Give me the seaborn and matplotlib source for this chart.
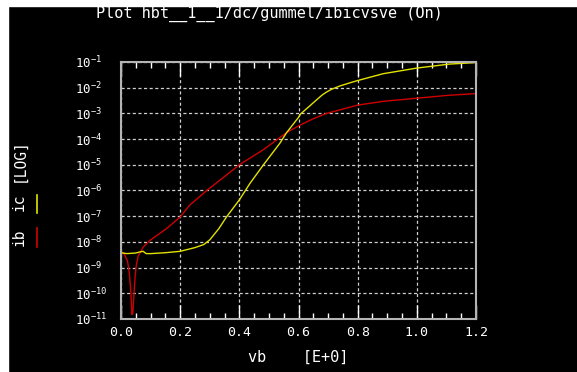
import numpy as np
import pandas as pd
import seaborn as sns
import matplotlib
matplotlib.use("Agg")
from matplotlib import pyplot as plt
from matplotlib.lines import Line2D
from matplotlib.patches import Rectangle
from matplotlib.ticker import FixedLocator, FuncFormatter, LogLocator, MultipleLocator

# base-emitter sweep (V) and currents (A)
vb_ic = [0.0, 0.02, 0.05, 0.065, 0.075, 0.085, 0.1, 0.15, 0.2, 0.25, 0.28, 0.3,
         0.33, 0.357, 0.4, 0.436, 0.481, 0.537, 0.56, 0.6, 0.607, 0.639, 0.65,
         0.68, 0.695, 0.712, 0.74, 0.774, 0.8, 0.886, 1.0, 1.11, 1.2]
ic = [3.8e-9, 3.5e-9, 3.7e-9, 4.1e-9, 4.3e-9, 3.5e-9, 3.5e-9, 3.8e-9, 4.3e-9,
      6.0e-9, 7.9e-9, 1.2e-8, 3.2e-8, 9.5e-8, 4.3e-7, 1.9e-6, 9.8e-6, 6.9e-5,
      1.8e-4, 7.0e-4, 9.5e-4, 2.0e-3, 2.6e-3, 5.2e-3, 6.8e-3, 8.7e-3, 1.17e-2,
      1.55e-2, 1.9e-2, 3.5e-2, 5.8e-2, 8.3e-2, 9.5e-2]

vb_ib = [0.0, 0.012, 0.022, 0.028, 0.033, 0.037, 0.040, 0.044, 0.048, 0.052,
         0.058, 0.075, 0.098, 0.154, 0.2, 0.233, 0.29, 0.35, 0.4, 0.48, 0.53,
         0.56, 0.605, 0.65, 0.695, 0.8, 0.886, 1.0, 1.11, 1.2]
ib = [4.0e-9, 3.2e-9, 1.8e-9, 6.3e-10, 1.3e-10, 1.5e-11, 1.7e-11, 1.0e-10,
      5.0e-10, 1.3e-9, 2.8e-9, 6.3e-9, 1.15e-8, 3.3e-8, 9.3e-8, 2.75e-7,
      1.0e-6, 3.5e-6, 1.0e-5, 3.8e-5, 1.0e-4, 1.8e-4, 3.5e-4, 6.2e-4, 1.0e-3,
      2.1e-3, 2.95e-3, 3.9e-3, 5.1e-3, 5.9e-3]

x_ticks = [0.0, 0.2, 0.4, 0.6, 0.8, 1.0, 1.2]
x_ticklabels = ["0.0", "0.2", "0.4", "0.6", "0.8", "1.0", "1.2"]
decades = list(range(-11, 0))

df = pd.concat([
    pd.DataFrame({"vb": vb_ib, "i": ib, "curve": "ib"}),
    pd.DataFrame({"vb": vb_ic, "i": ic, "curve": "ic"}),
])

mono = "DejaVu Sans Mono"
plt.rcParams["font.family"] = mono
plt.rcParams["mathtext.fontset"] = "dejavusans"

fig = plt.figure(figsize=(5.77, 3.72), dpi=100, facecolor="black")
# white frame strips at top and left
fig.patches.append(Rectangle((0, 0), 8 / 577, 1, transform=fig.transFigure,
                             color="white", zorder=0))
fig.patches.append(Rectangle((0, 1 - 6 / 372), 1, 6 / 372, transform=fig.transFigure,
                             color="white", zorder=0))

ax = fig.add_axes([121 / 577, 1 - 319 / 372, 355 / 577, 257 / 372])
ax.set_facecolor("black")

sns.lineplot(data=df, x="vb", y="i", hue="curve", palette={"ib": "#d00000", "ic": "#e2e200"},
             estimator=None, sort=False, linewidth=1.0, legend=False, ax=ax)

ax.set_yscale("log")
ax.set_xlim(0, 1.2)
ax.set_ylim(1e-11, 1e-1)

ax.xaxis.set_major_locator(FixedLocator(x_ticks))
ax.set_xticklabels(x_ticklabels)
ax.xaxis.set_minor_locator(MultipleLocator(0.05))
ax.yaxis.set_major_locator(FixedLocator([10.0 ** d for d in decades]))
ax.yaxis.set_minor_locator(LogLocator(base=10, subs=np.arange(2, 10)))
ax.yaxis.set_major_formatter(FuncFormatter(
    lambda v, p: r"$\mathregular{10^{%d}}$" % round(np.log10(v))))

ax.grid(True, which="major", color="#cfcfcf", linestyle=(0, (2.5, 2)), linewidth=0.9)
ax.tick_params(which="both", direction="in", colors="white", labelcolor="white")
ax.tick_params(axis="x", which="major", length=10, width=1, labelsize=9.5, pad=5,
               top=True)
ax.tick_params(axis="x", which="minor", length=4, width=1, top=True)
ax.tick_params(axis="y", which="major", length=0, labelsize=9, pad=33)
ax.tick_params(axis="y", which="minor", length=7, width=1)
for lab in ax.get_yticklabels():
    lab.set_horizontalalignment("left")

for s in ax.spines.values():
    s.set_color("#b4b4b4")
    s.set_linewidth(1.5)

ax.set_xlabel("vb    [E+0]", color="white", fontsize=11, labelpad=8)
ax.set_ylabel("")

fig.text(0.467, 1 - 14 / 372, "Plot hbt__1__1/dc/gummel/ibicvsve (On)",
         color="white", fontsize=11, ha="center", va="center")

# axis label with colour keys
fig.text(19 / 577, 1 - 237 / 372, "ib", color="white", fontsize=10.5, rotation=90,
         ha="center", va="center")
fig.text(19 / 577, 1 - 202 / 372, "ic", color="white", fontsize=10.5, rotation=90,
         ha="center", va="center")
fig.text(19 / 577, 1 - 160 / 372, "[LOG]", color="white", fontsize=10.5, rotation=90,
         ha="center", va="center")
fig.add_artist(Line2D([37 / 577, 37 / 577], [1 - 228 / 372, 1 - 247 / 372],
                      color="#d00000", linewidth=1.2, transform=fig.transFigure))
fig.add_artist(Line2D([37 / 577, 37 / 577], [1 - 195 / 372, 1 - 213 / 372],
                      color="#e2e200", linewidth=1.2, transform=fig.transFigure))

fig.savefig("out.png", dpi=100, facecolor=fig.get_facecolor())
